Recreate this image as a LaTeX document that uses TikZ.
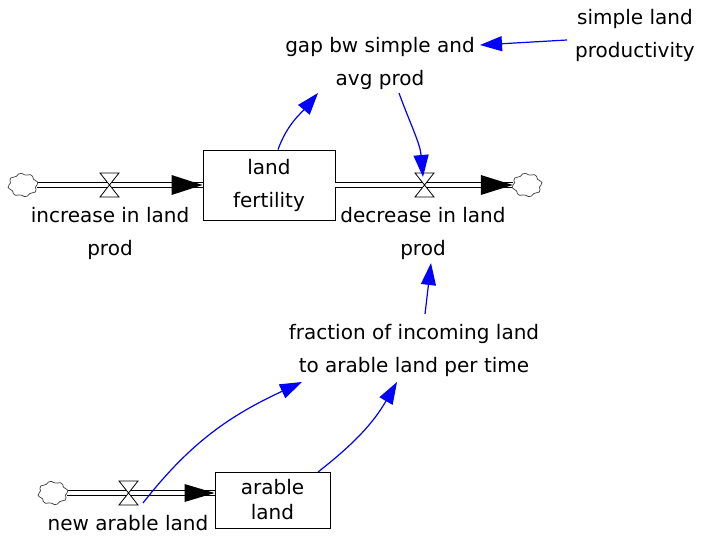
\documentclass[tikz,border=0pt]{standalone}
\usepackage{fontspec}
\setmainfont{DejaVu Sans}
\usetikzlibrary{arrows.meta}
\tikzset{
  x=1pt,y=1pt,
  txt/.style={align=center,inner sep=0pt,font=\fontsize{20}{33}\selectfont},
  stock/.style={draw,line width=0.9pt,fill=white,align=center,inner sep=0pt,font=\fontsize{20}{33}\selectfont},
  cloudnode/.style={shape=rectangle,minimum width=28pt,minimum height=22pt,inner sep=0pt},
  cloudpic/.pic={\draw[black!75,line width=0.7pt,fill=white] plot[smooth cycle,domain=0:348,samples=30] ({14*cos(\x)*(1+0.09*sin(8*\x))},{11*sin(\x)*(1+0.09*sin(8*\x))});},
  pipe/.style={double=white,double distance=4pt,line width=1pt},
  link/.style={blue,line width=1.2pt,-{Triangle[length=22pt,width=15pt]}},
  valve/.pic={\draw[fill=white,line width=0.8pt] (-9.5,12) -- (9.5,12) -- (-9.5,-12) -- (9.5,-12) -- cycle;},
}
\begin{document}
\begin{tikzpicture}
\useasboundingbox (0,0) rectangle (702,-537);
% stocks
\node[stock,minimum width=132pt,minimum height=70pt] (lf) at (269,-185) {land\\fertility};
\node[stock,minimum width=115pt,minimum height=56pt,font=\fontsize{20}{25}\selectfont] (al) at (272.5,-500) {arable\\land};
% clouds
\node[cloudnode] (c1) at (23,-185) {};
\node[cloudnode] (c2) at (527,-185) {};
\node[cloudnode] (c3) at (53,-493) {};
% valves
\coordinate (v1) at (109.5,-185);
\coordinate (v2) at (424.5,-185);
\coordinate (v3) at (128.5,-493);
% pipes
\draw[pipe] (c1.east) -- (lf.west);
\fill (lf.west) -- ++(-31,10) -- ++(0,-20) -- cycle;
\draw[pipe] (lf.east) -- (c2.west);
\fill (c2.west) -- ++(-32,10) -- ++(0,-20) -- cycle;
\draw[pipe] (c3.east) -- (al.west |- c3);
\fill (al.west |- c3) -- ++(-30,9) -- ++(0,-18) -- cycle;
\pic at (c1) {cloudpic};
\pic at (c2) {cloudpic};
\pic at (c3) {cloudpic};
\pic at (v1) {valve};
\pic at (v2) {valve};
\pic at (v3) {valve};
% labels
\node[txt] (inc) at (110,-233) {increase in land\\prod};
\node[txt] (dec) at (423,-233) {decrease in land\\prod};
\node[txt] (gap) at (380,-63) {gap bw simple and\\avg prod};
\node[txt] (slp) at (635,-35) {simple land\\productivity};
\node[txt] (frac) at (414,-350) {fraction of incoming land\\to arable land per time};
\node[txt] (nal) at (128,-523) {new arable land};
% links
\draw[link] ([shift={(-68,-5)}]slp.center) -- ([shift={(100,18)}]gap.center);
\draw[link] ([shift={(9,0)}]lf.north) to[out=70,in=230] ([shift={(-62,-30)}]gap.center);
\draw[link] ([shift={(19,-30)}]gap.center) to[out=-70,in=95] ([shift={(-1.5,8)}]v2);
\draw[link] ([shift={(11,36)}]frac.center) -- ([shift={(8,-30)}]dec.center);
\draw[link] ([shift={(14.5,-10)}]v3) to[out=52,in=205] ([shift={(-112,-32)}]frac.center);
\draw[link] ([shift={(45.5,28)}]al.center) to[out=38,in=240] ([shift={(-17,-32)}]frac.center);
\end{tikzpicture}
\end{document}
